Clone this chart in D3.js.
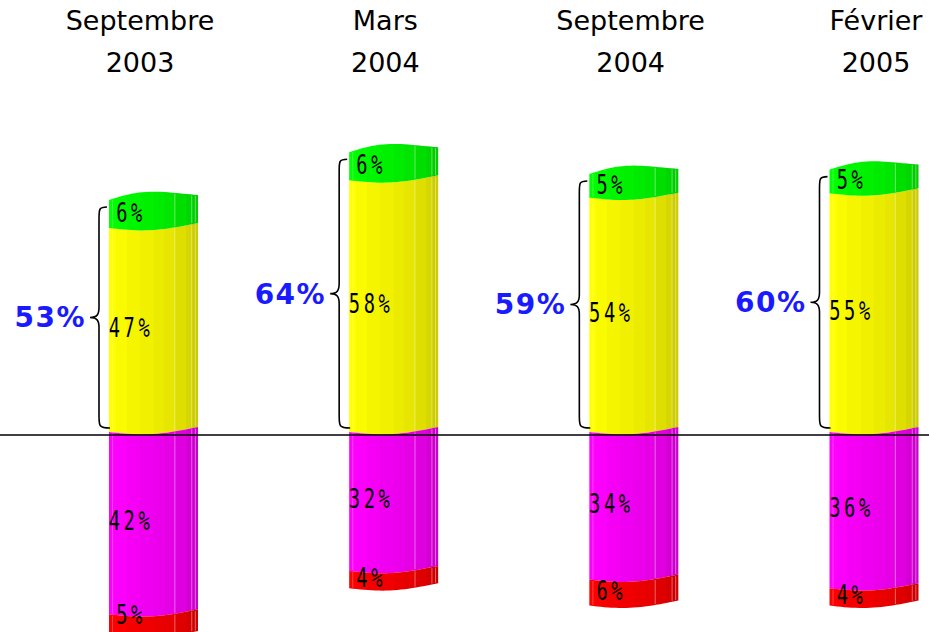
<!DOCTYPE html>
<html>
<head>
<meta charset="utf-8">
<script src="https://cdn.jsdelivr.net/npm/d3@7"></script>
<style>
html,body{margin:0;padding:0;background:#fff;}
svg{display:block;}
</style>
</head>
<body>
<svg id="chart" width="929" height="632"></svg>
<script>
// ---- data ----
const categories = ["Septembre 2003", "Mars 2004", "Septembre 2004", "Février 2005"];
const titleLine1 = ["Septembre", "Mars", "Septembre", "Février"];
const titleLine2 = ["2003", "2004", "2004", "2005"];
const greenVals = [6, 6, 5, 5];
const yellowVals = [47, 58, 54, 55];
const magentaVals = [42, 32, 34, 36];
const redVals = [5, 4, 6, 4];
const totals = [53, 64, 59, 60];

const svg = d3.select("#chart");
const W = 929, H = 632;
const barW = 89;

const x = d3.scalePoint().domain(categories).range([153.5, 874]);
const xTitle = d3.scalePoint().domain(categories).range([140, 876]);
const y = d3.scaleLinear().domain([-50, 100]).range([649, -2]);

const segColors = {
  green: [0, 255, 0],
  yellow: [255, 255, 0],
  magenta: [255, 0, 255],
  red: [255, 0, 0]
};

const defs = svg.append("defs");
const facetStops = [0, 0.08, 0.2, 0.35, 0.5, 0.62, 0.74, 0.86, 0.93, 1];
const facetShade = [1, 0.985, 0.96, 0.94, 0.92, 0.9, 0.87, 0.84, 0.8, 0.76];
Object.entries(segColors).forEach(([name, c]) => {
  const g = defs.append("linearGradient").attr("id", "grad-" + name)
    .attr("x1", "0%").attr("x2", "100%").attr("y1", "0%").attr("y2", "0%");
  for (let i = 0; i < facetStops.length - 1; i++) {
    const k = facetShade[i];
    const col = d3.rgb(c[0] * k, c[1] * k, c[2] * k).toString();
    g.append("stop").attr("offset", facetStops[i]).attr("stop-color", col);
    g.append("stop").attr("offset", facetStops[i + 1]).attr("stop-color", col);
  }
});

// perspective curves for cylinder
const frontDy = d3.interpolateBasis([0, 2.5, 2.5, -0.5, -5]);
const backDy = d3.interpolateBasis([-2, -9, -11, -9, -7]);
const N = 24;
function edge(x0, yy, fn, reverse) {
  const pts = d3.range(N + 1).map(i => {
    const t = i / N;
    return [x0 + t * barW, yy + fn(t)];
  });
  return reverse ? pts.reverse() : pts;
}

const bars = [];
categories.forEach((cat, i) => {
  const cx = x(cat);
  const x0 = cx - barW / 2;
  const yb = [0, yellowVals[i], yellowVals[i] + greenVals[i]];
  bars.push({cat, i, x0, v0: yb[0], v1: yb[1], color: "yellow", top: false, label: yellowVals[i]});
  bars.push({cat, i, x0, v0: yb[1], v1: yb[2], color: "green", top: true, label: greenVals[i]});
  const nb = [0, -magentaVals[i], -magentaVals[i] - redVals[i]];
  bars.push({cat, i, x0, v0: nb[1], v1: nb[0], color: "magenta", top: false, label: magentaVals[i]});
  bars.push({cat, i, x0, v0: nb[2], v1: nb[1], color: "red", top: false, label: redVals[i]});
});

const gBars = svg.append("g");
bars.forEach(b => {
  const yTop = y(b.v1), yBot = y(b.v0);
  const topPts = edge(b.x0, yTop, b.top ? backDy : frontDy, false);
  const botPts = edge(b.x0, yBot, frontDy, true);
  const pts = topPts.concat(botPts);
  gBars.append("path")
    .attr("d", "M" + pts.map(p => p[0].toFixed(2) + "," + p[1].toFixed(2)).join("L") + "Z")
    .attr("fill", "url(#grad-" + b.color + ")");
  [0.04, 0.74, 0.93, 0.97].forEach((t, k) => {
    const xx = b.x0 + t * barW;
    const y1 = yTop + (b.top ? backDy(t) : frontDy(t)) + 1;
    const y2 = yBot + frontDy(t) - 1;
    gBars.append("line")
      .attr("x1", xx).attr("x2", xx).attr("y1", y1).attr("y2", y2)
      .attr("stroke", "#fff").attr("stroke-opacity", k === 0 ? 0.25 : 0.4).attr("stroke-width", 1);
  });
});

// baseline
svg.append("line")
  .attr("x1", 0).attr("x2", W).attr("y1", y(0) + 3).attr("y2", y(0) + 3)
  .attr("stroke", "#000").attr("stroke-width", 1.5);

// segment labels
const gLab = svg.append("g");
bars.forEach(b => {
  const mid = (y(b.v0) + y(b.v1)) / 2;
  const lx = b.x0 + 22;
  const ly = Math.min(mid + 7, H - 8);
  gLab.append("text")
    .attr("transform", `translate(${lx},${ly}) scale(0.72,1)`)
    .attr("text-anchor", "middle")
    .attr("font-family", "'DejaVu Sans Mono', monospace")
    .attr("font-size", 26)
    .attr("letter-spacing", 5)
    .attr("fill", "#000")
    .text(b.label + "%");
});

// braces and totals
const gBr = svg.append("g");
categories.forEach((cat, i) => {
  const x0 = x(cat) - barW / 2;
  const yT = y(totals[i]) + 5;
  const yB = y(0) - 4;
  const xa = x0 - 2, xb = x0 - 10, xt = x0 - 19;
  const ym = (yT + yB) / 2;
  const r = 8;
  const d = `M${xa},${yT} C${xb},${yT} ${xb},${yT + 2} ${xb},${yT + r + 4}` +
    ` L${xb},${ym - r - 2} C${xb},${ym - 3} ${xb - 2},${ym} ${xt},${ym}` +
    ` C${xb - 2},${ym} ${xb},${ym + 3} ${xb},${ym + r + 2}` +
    ` L${xb},${yB - r - 4} C${xb},${yB - 2} ${xb},${yB} ${xa + 3},${yB}`;
  gBr.append("path").attr("d", d).attr("fill", "none").attr("stroke", "#000").attr("stroke-width", 1.6);
  gBr.append("text")
    .attr("x", xt - 4).attr("y", ym + 10)
    .attr("text-anchor", "end")
    .attr("font-family", "'DejaVu Sans', sans-serif")
    .attr("font-weight", "bold")
    .attr("font-size", 28)
    .attr("letter-spacing", 1.5)
    .attr("fill", "#1a1aff")
    .text(totals[i] + "%");
});

// titles
const gT = svg.append("g")
  .attr("font-family", "'DejaVu Sans', sans-serif")
  .attr("font-size", 27)
  .attr("text-anchor", "middle")
  .attr("fill", "#000");
categories.forEach((cat, i) => {
  const cx = xTitle(cat);
  gT.append("text").attr("x", cx).attr("y", 30).text(titleLine1[i]);
  gT.append("text").attr("x", cx).attr("y", 72).text(titleLine2[i]);
});
</script>
</body>
</html>
